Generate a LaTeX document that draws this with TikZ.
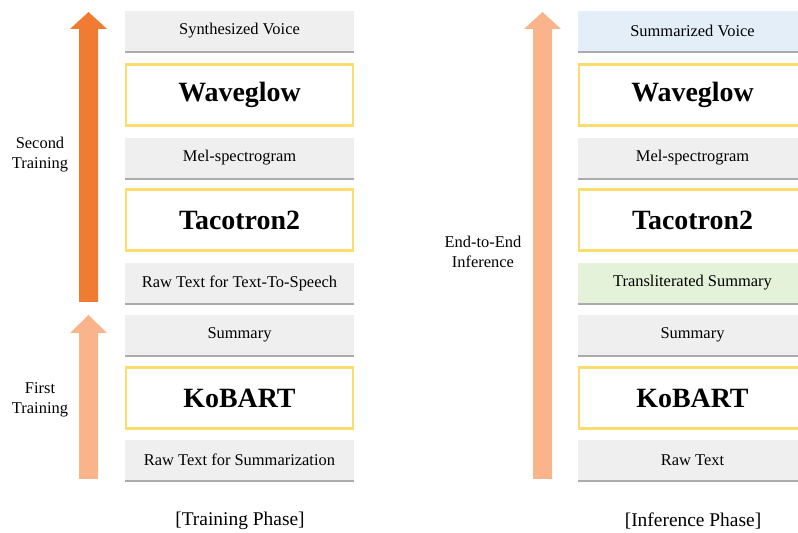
\documentclass[tikz,border=0pt]{standalone}
\usepackage{fontspec}
\setmainfont{Liberation Serif}
\usetikzlibrary{shadows}
\definecolor{boxgray}{HTML}{EFEFEF}
\definecolor{shadowgray}{HTML}{ABABAB}
\definecolor{modelyellow}{HTML}{FBDD6E}
\definecolor{voiceblue}{HTML}{E3EEF9}
\definecolor{translitgreen}{HTML}{E5F2DA}
\definecolor{darkorange}{HTML}{F07C33}
\definecolor{lightorange}{HTML}{F9B48B}
\begin{document}
\begin{tikzpicture}[x=1bp,y=1bp,
  stage/.style={rectangle,fill=boxgray,minimum width=229bp,minimum height=40bp,inner sep=0pt,
    font=\fontsize{16.5}{18}\selectfont,
    drop shadow={shadow xshift=0bp,shadow yshift=-2.5bp,fill=shadowgray,opacity=1}},
  model/.style={rectangle,draw=modelyellow,line width=2.2bp,fill=white,minimum width=227bp,
    minimum height=61bp,inner sep=0pt,font=\fontsize{28}{30}\selectfont\bfseries},
  sidelabel/.style={align=center,font=\fontsize{16.5}{20}\selectfont},
  phaselabel/.style={font=\fontsize{19.5}{22}\selectfont},
]
\useasboundingbox (0bp,0bp) rectangle (798bp,533bp);
\clip (0bp,0bp) rectangle (798bp,533bp);
%%
% training phase
\node (syn_voice) at (239.5bp,502bp) [stage] {Synthesized Voice};
  \node (waveglow_1) at (239.5bp,438bp) [model] {Waveglow};
  \node (mel_1) at (239.5bp,375bp) [stage] {Mel-spectrogram};
  \node (tacotron_1) at (239.5bp,313bp) [model] {Tacotron2};
  \node (raw_tts) at (239.5bp,250bp) [stage] {Raw Text for Text-To-Speech};
  \node (summary_1) at (239.5bp,198bp) [stage] {Summary};
  \node (kobart_1) at (239.5bp,135bp) [model] {KoBART};
  \node (raw_summ) at (239.5bp,73bp) [stage] {Raw Text for Summarization};
  \node (second_train) at (40bp,378bp) [sidelabel] {Second\\Training};
  \node (first_train) at (40bp,133bp) [sidelabel] {First\\Training};
  \node (train_phase) at (240bp,12bp) [phaselabel] {[Training Phase]};
% inference phase
  \node (sum_voice) at (692.5bp,502bp) [stage,fill=voiceblue] {Summarized Voice};
  \node (waveglow_2) at (692.5bp,438bp) [model] {Waveglow};
  \node (mel_2) at (692.5bp,375bp) [stage] {Mel-spectrogram};
  \node (tacotron_2) at (692.5bp,313bp) [model] {Tacotron2};
  \node (translit) at (692.5bp,250bp) [stage,fill=translitgreen] {Transliterated Summary};
  \node (summary_2) at (692.5bp,198bp) [stage] {Summary};
  \node (kobart_2) at (692.5bp,135bp) [model] {KoBART};
  \node (raw_text) at (692.5bp,73bp) [stage] {Raw Text};
  \node (e2e_infer) at (483bp,281bp) [sidelabel] {End-to-End\\Inference};
  \node (infer_phase) at (693bp,12bp) [phaselabel] {[Inference Phase]};
% block arrows
  \fill [darkorange] (79bp,231bp) -- (79bp,504bp) -- (70bp,504bp) -- (88.5bp,521bp)
    -- (107bp,504bp) -- (98bp,504bp) -- (98bp,231bp) -- cycle;
  \fill [lightorange] (79bp,54bp) -- (79bp,200bp) -- (70bp,200bp) -- (88.5bp,218bp)
    -- (107bp,200bp) -- (98bp,200bp) -- (98bp,54bp) -- cycle;
  \fill [lightorange] (533bp,54bp) -- (533bp,504bp) -- (524bp,504bp) -- (542.5bp,521bp)
    -- (561bp,504bp) -- (552bp,504bp) -- (552bp,54bp) -- cycle;
%
\end{tikzpicture}
\end{document}
